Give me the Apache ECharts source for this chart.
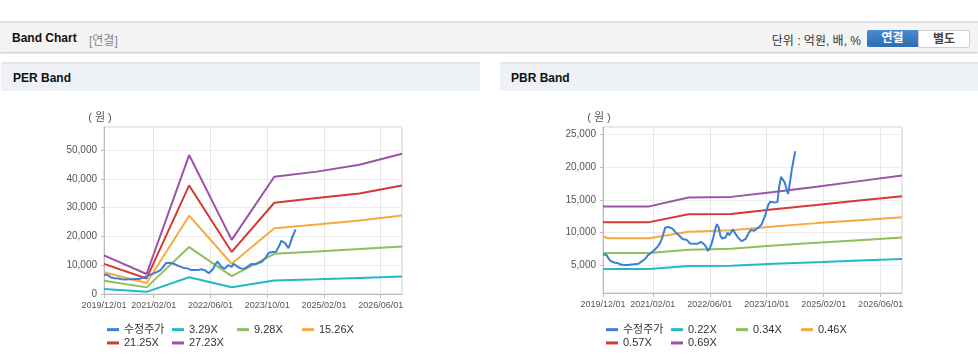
<!DOCTYPE html>
<html>
<head>
<meta charset="utf-8">
<script src="https://cdn.jsdelivr.net/npm/echarts@6/dist/echarts.min.js"></script>
<style>
  html, body { margin: 0; padding: 0; background: #fff; width: 978px; height: 362px; overflow: hidden;
    font-family: "Liberation Sans", "Noto Sans CJK KR", sans-serif; }
  .topbar { position: absolute; left: 0; top: 21px; width: 978px; height: 29px; background: #f4f4f4;
    border-top: 2px solid #e4e4e4; box-shadow: 0 1px 2px rgba(0,0,0,0.25); }
  .title { position: absolute; left: 12px; top: 8px; font-size: 12px; font-weight: bold; color: #111; }
  .sub { position: absolute; left: 89px; top: 8px; font-size: 12px; color: #888; }
  .unit { position: absolute; right: 117px; top: 8px; font-size: 12px; color: #333; }
  .btn1 { position: absolute; left: 867px; top: 7px; width: 51px; height: 17px; background: linear-gradient(#4a8ad0, #2f6db3);
    color: #fff; font-size: 12px; font-weight: bold; text-align: center; line-height: 17px; border-radius: 2px 0 0 2px; }
  .btn2 { position: absolute; left: 918px; top: 7px; width: 50px; height: 16px; background: #fff; border: 1px solid #d0d0d0;
    color: #444; font-size: 12px; font-weight: bold; text-align: center; line-height: 16px; border-radius: 0 2px 2px 0; }
  .sec { position: absolute; top: 62px; height: 27px; background: #eef1f6; border-top: 2px solid #e3e6eb; }
  .sec span { position: absolute; left: 12px; top: 7px; font-size: 12px; font-weight: bold; color: #111; }
  #per { position: absolute; left: 0; top: 92px; width: 490px; height: 270px; }
  #pbr { position: absolute; left: 490px; top: 92px; width: 488px; height: 270px; }
</style>
</head>
<body>
<div class="topbar">
  <div class="title">Band Chart</div>
  <div class="sub">[연결]</div>
  <div class="unit">단위 : 억원, 배, %</div>
  <div class="btn1">연결</div>
  <div class="btn2">별도</div>
</div>
<div class="sec" style="left:1px;width:479px;"><span>PER Band</span></div>
<div class="sec" style="left:500px;width:478px;"><span style="left:11px">PBR Band</span></div>
<div id="per"></div>
<div id="pbr"></div>
<script>
// ---- categories: half-month steps from 2019/12/01 to 2026/12/01 ----
const categories = [];
for (let i = 0; i <= 168; i++) {
  const m = Math.floor(i / 2);
  const y = 2019 + Math.floor((11 + m) / 12);
  const mo = (11 + m) % 12 + 1;
  categories.push(y + '/' + String(mo).padStart(2, '0') + '/' + (i % 2 ? '16' : '01'));
}
const tickLabels = ['2019/12/01', '2021/02/01', '2022/06/01', '2023/10/01', '2025/02/01', '2026/06/01'];

// ---- adjusted price (수정주가), half-month steps from 2019/12/01 ----
const price = [
  6650, 6650, 6600, 6100, 5750, 5600, 5450, 5400, 5380, 5350,
  5150, 5080, 5060, 5060, 5080, 5100, 5150, 5180, 5200, 5180,
  5250, 5450, 5650, 5700, 6100, 6500, 6700, 6900, 7150, 7400,
  7700, 7950, 8400, 9000, 9900, 10800, 10900, 10850, 10800, 10600,
  10500, 10000, 9700, 9500, 9350, 9000, 8700, 8900, 8600, 8350,
  8150, 8300, 8250, 8300, 8350, 8600, 8550, 8200, 7800, 7200,
  7600, 8300, 9300, 10500, 11300, 10800, 9500, 9100, 8800, 9300,
  10000, 9600, 9400, 10500, 10000, 9600, 9200, 8900, 8700, 8750,
  9000, 9500, 10000, 10400, 10200, 10300, 10150, 10700, 11000, 11200,
  11400, 12500, 13500, 14300, 14700, 14600, 14600, 14650, 14650, 17000,
  18500, 18200, 17700, 16800, 15900, 17600, 19500, 21000, 22400
];

// ---- PER band key points (months after 2019/12) ----
const perKeyMonths = [0, 12, 24, 36, 48, 60, 72, 84];
const per329  = [1750, 750, 5800, 2350, 4700, 5100, 5550, 6050];
const per928  = [4600, 2300, 16300, 6200, 13950, 14750, 15600, 16500];
const per1526 = [7550, 3800, 27200, 10500, 22800, 24100, 25500, 27300];
const per2125 = [10450, 5400, 37700, 14600, 31700, 33300, 34900, 37700];
const per2723 = [13400, 6950, 48250, 18800, 40700, 42500, 44900, 48700];
const perNames = ['3.29X', '9.28X', '15.26X', '21.25X', '27.23X'];

// ---- PBR band key points ----
const pbrKeyMonths = [0, 1.5, 13, 24, 36, 48, 60, 72, 84];
const pbr022 = [4450, 4450, 4450, 4900, 4950, 5250, 5500, 5750, 6000];
const pbr034 = [6900, 6900, 6900, 7400, 7550, 8050, 8450, 8850, 9250];
const pbr046 = [9400, 9150, 9150, 10150, 10350, 10950, 11450, 11900, 12350];
const pbr057 = [11600, 11600, 11600, 12800, 12850, 13550, 14200, 14900, 15550];
const pbr069 = [14000, 14000, 14000, 15350, 15450, 16200, 17000, 17850, 18700];
const pbrNames = ['0.22X', '0.34X', '0.46X', '0.57X', '0.69X'];

const colors = ['#3a7fd5', '#27b8c8', '#8fbf59', '#f7a941', '#d43a32', '#9b52a8'];
const priceName = '수정주가';

function toSeries(months, values) {
  const arr = new Array(categories.length).fill(null);
  months.forEach((m, k) => { arr[Math.round(m * 2)] = values[k]; });
  return arr;
}

const FONT = '"Liberation Sans", "Noto Sans CJK KR", sans-serif';

function buildOption(gridLeft, gridWidth, gridHeight, yMin, yMax, bandNames, bandMonths, bands, legendLeft) {
  const isTick = (idx, val) => tickLabels.indexOf(val) >= 0;
  const series = [{
    name: priceName, type: 'line', data: price, showSymbol: false, connectNulls: true,
    lineStyle: { width: 2, color: colors[0] }, itemStyle: { color: colors[0] }, z: 5
  }];
  bands.forEach((b, k) => {
    series.push({
      name: bandNames[k], type: 'line', data: toSeries(bandMonths, b), showSymbol: false, connectNulls: true,
      lineStyle: { width: 2, color: colors[k + 1] }, itemStyle: { color: colors[k + 1] }, z: 3
    });
  });
  return {
    animation: false,
    textStyle: { fontFamily: FONT },
    grid: { left: gridLeft, top: 35, width: gridWidth, height: gridHeight, show: true,
            borderColor: '#cfcfcf', borderWidth: 1, backgroundColor: 'transparent' },
    legend: {
      left: legendLeft, top: 231, width: 262, padding: 0, itemGap: 0,
      itemWidth: 12, itemHeight: 3, icon: 'rect',
      textStyle: { fontSize: 11, color: '#333', width: 48, lineHeight: 13.3, fontFamily: FONT },
      data: [priceName].concat(bandNames)
    },
    xAxis: {
      type: 'category', data: categories, boundaryGap: false,
      axisLine: { lineStyle: { color: '#bdbdbd', width: 1 } },
      axisTick: { show: true, length: 4, interval: isTick, lineStyle: { color: '#bdbdbd' } },
      axisLabel: { interval: isTick, fontSize: 9, color: '#555', margin: 7, fontFamily: FONT },
      splitLine: { show: true, interval: isTick, lineStyle: { color: '#e6e6e6', width: 1 } }
    },
    yAxis: {
      type: 'value', min: yMin, max: yMax, splitNumber: 5,
      name: '( 원 )', nameLocation: 'end', nameGap: 4,
      nameTextStyle: { fontSize: 11, color: '#555', align: 'center', padding: [0, 8, 0, 0], fontFamily: FONT },
      axisLine: { show: true, lineStyle: { color: '#bdbdbd', width: 1 } },
      axisTick: { show: true, length: 3, lineStyle: { color: '#bdbdbd' } },
      axisLabel: { fontSize: 10, color: '#555', margin: 7, showMinLabel: yMin === 0, showMaxLabel: false, fontFamily: FONT },
      splitLine: { show: true, lineStyle: { color: '#ececec', width: 1 } }
    },
    series: series
  };
}

const perChart = echarts.init(document.getElementById('per'));
perChart.setOption(buildOption(104, 298, 167, 0, 58000, perNames, perKeyMonths,
  [per329, per928, per1526, per2125, per2723], 107));

const pbrChart = echarts.init(document.getElementById('pbr'));
pbrChart.setOption(buildOption(113, 299, 166, 800, 26100, pbrNames, pbrKeyMonths,
  [pbr022, pbr034, pbr046, pbr057, pbr069], 116));
</script>
</body>
</html>
